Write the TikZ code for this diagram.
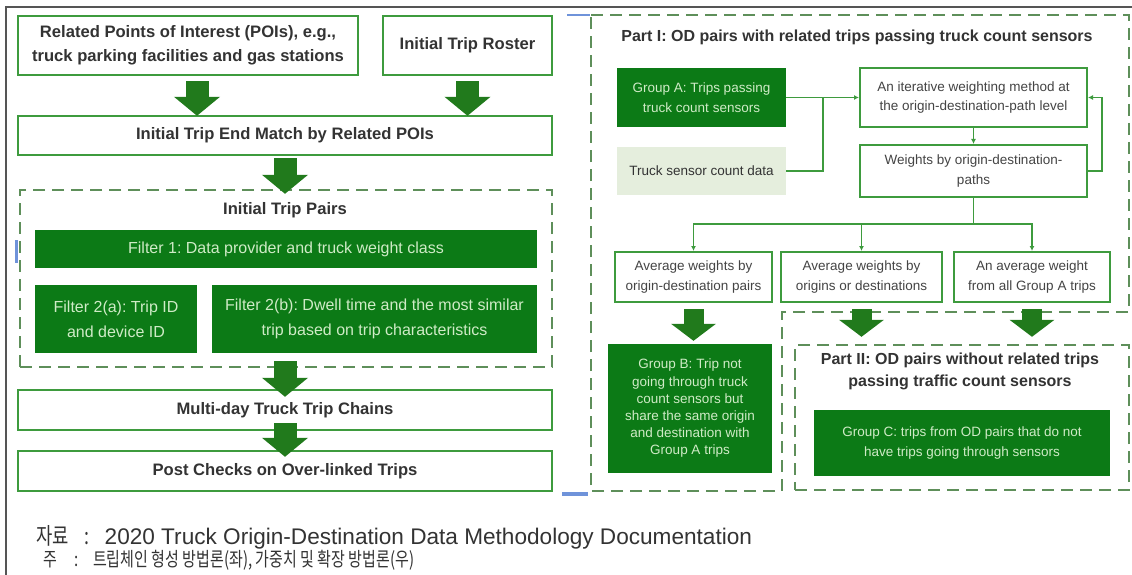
\documentclass[tikz,border=0pt]{standalone}
\usepackage{fontspec}
\setmainfont{Liberation Sans}
\newfontfamily\capfont[FakeStretch=0.77]{Noto Sans CJK KR}
\usetikzlibrary{arrows.meta,calc}
\definecolor{boxgreen}{HTML}{3E9B3E}
\definecolor{fillgreen}{HTML}{0C7A16}
\definecolor{arrowgreen}{HTML}{217A1C}
\definecolor{dashgreen}{HTML}{5E8F5A}
\definecolor{paletext}{HTML}{CFEBC6}
\definecolor{sensorfill}{HTML}{E5EEDD}
\definecolor{darktext}{HTML}{333333}
\definecolor{softtext}{HTML}{444444}
\definecolor{framegray}{HTML}{555555}
\definecolor{markblue}{HTML}{6F93DA}
\frenchspacing
\begin{document}
\begin{tikzpicture}[x=1pt,y=-1pt,
  lbold/.style={font=\fontsize{16.6}{24}\selectfont\bfseries},
  lreg/.style={font=\fontsize{16}{25}\selectfont},
  rreg/.style={font=\fontsize{13.5}{19.5}\selectfont},
  wbox/.style={draw=boxgreen, line width=2.4pt, fill=white, align=center,
               inner sep=0pt, text=darktext, lbold},
  rbox/.style={draw=boxgreen, line width=2pt, fill=white, align=center,
               inner sep=0pt, text=softtext, rreg},
  gbox/.style={fill=fillgreen, text=paletext, align=center, inner sep=0pt},
  dbox/.style={draw=dashgreen, line width=2.4pt, dash pattern=on 12pt off 7pt},
  fatL/.style={arrowgreen, line width=23pt, -{Triangle[width=45pt,length=19pt]}},
  fatR/.style={arrowgreen, line width=20pt, -{Triangle[width=44pt,length=17pt]}},
  thinline/.style={boxgreen, line width=1.8pt},
  thinarrow/.style={thinline, -{Latex[length=5pt,width=5pt]}},
  title/.style={text=darktext, align=center, inner sep=0pt,
                font=\fontsize{16}{22}\selectfont\bfseries},
  caption/.style={anchor=west, inner sep=0pt, text=darktext,
                  font=\fontsize{22.6}{23}\selectfont}
]
\useasboundingbox (0,0) rectangle (1132,575);
\fill[white] (0,0) rectangle (1132,575);

% outer frame
\draw[framegray, line width=1.3pt] (6,575) -- (6,7) -- (1132,7);

% ---------------- trip chain construction ----------------
\node[wbox, minimum width=340pt, minimum height=59pt] (poi) at (188,45.5)
  {Related Points of Interest (POIs), e.g.,\\truck parking facilities and gas stations};
\node[wbox, minimum width=169pt, minimum height=59pt] (roster) at (467.5,45.5)
  {Initial Trip Roster};
\node[wbox, minimum width=534pt, minimum height=39pt] (match) at (285,135.5)
  {Initial Trip End Match by Related POIs};

\node[dbox, minimum width=532pt, minimum height=177pt, inner sep=0pt] (pairs) at (286,278.5) {};
\node[title, font=\fontsize{16.6}{20}\selectfont\bfseries] (pairslbl) at (285,210) {Initial Trip Pairs};
\node[gbox, lreg, minimum width=502pt, minimum height=38pt] (f1) at (286,249)
  {Filter 1: Data provider and truck weight class};
\node[gbox, lreg, minimum width=162pt, minimum height=68pt] (f2a) at (116,319)
  {Filter 2(a): Trip ID\\and device ID};
\node[gbox, lreg, minimum width=325pt, minimum height=68pt] (f2b) at (374.5,319)
  {Filter 2(b): Dwell time and the most similar\\trip based on trip characteristics};

\node[wbox, minimum width=534pt, minimum height=40pt] (multi) at (285,410)
  {Multi-day Truck Trip Chains};
\node[wbox, minimum width=534pt, minimum height=40pt] (post) at (285,471)
  {Post Checks on Over-linked Trips};

\draw[fatL, shorten <=5pt, shorten >=-1pt] ([xshift=9pt]poi.south) -- ([xshift=9pt]poi.south |- match.north);
\draw[fatL, shorten <=5pt, shorten >=-1pt] (roster.south) -- (roster.south |- match.north);
\draw[fatL, shorten <=2pt, shorten >=-5pt] (match.south) -- (match.south |- pairs.north);
\draw[fatL, shorten <=-7pt, shorten >=-8pt] (pairs.south -| match.south) -- (multi.north);
\draw[fatL, shorten <=-8pt, shorten >=-7pt] (multi.south) -- (post.north);

% ---------------- weighting and expansion ----------------
\draw[dbox] (591,15) -- (1129,15) -- (1129,312) -- (782,312) -- (782,491) -- (591,491) -- cycle;
\node[title] (p1title) at (857,37)
  {Part I: OD pairs with related trips passing truck count sensors};

\node[gbox, rreg, minimum width=169pt, minimum height=59pt] (groupA) at (701.5,97.5)
  {Group A: Trips passing\\truck count sensors};
\node[fill=sensorfill, text=darktext, rreg, inner sep=0pt,
      minimum width=169pt, minimum height=48pt] (sensor) at (701.5,171)
  {Truck sensor count data};
\node[rbox, minimum width=227pt, minimum height=59pt] (iter) at (973.5,97.5)
  {An iterative weighting method at\\the origin-destination-path level};
\node[rbox, minimum width=227pt, minimum height=52pt] (weights) at (973.5,171)
  {Weights by origin-destination-\\paths};

\node[rbox, minimum width=157pt, minimum height=50pt] (avg1) at (693.5,277)
  {Average weights by\\origin-destination pairs};
\node[rbox, minimum width=161pt, minimum height=50pt] (avg2) at (861.5,277)
  {Average weights by\\origins or destinations};
\node[rbox, minimum width=156pt, minimum height=50pt] (avg3) at (1032,277)
  {An average weight\\from all Group A trips};

\node[gbox, font=\fontsize{13.5}{17.2}\selectfont, minimum width=164pt, minimum height=129pt] (groupB) at (690,408.5)
  {Group B: Trip not\\going through truck\\count sensors but\\share the same origin\\and destination with\\Group A trips};

\node[dbox, minimum width=334pt, minimum height=145pt, inner sep=0pt] (part2) at (962,417.5) {};
\node[title] (p2title) at (960,371)
  {Part II: OD pairs without related trips\\passing traffic count sensors};
\node[gbox, rreg, minimum width=296pt, minimum height=66pt] (groupC) at (962,443)
  {Group C: trips from OD pairs that do not\\have trips going through sensors};

% thin connectors
\coordinate (jA) at ($(groupA.east)!0.5!(iter.west)$);
\draw[thinarrow] (groupA.east) -- (iter.west);
\draw[thinline] (sensor.east) -| (jA);
\draw[thinarrow] (iter.south) -- (weights.north);
\draw[thinarrow] (weights.east) -- ++(14,0) |- (iter.east);
\coordinate (split) at ($(weights.south)+(0,26)$);
\draw[thinline] (weights.south) -- (split);
\draw[thinarrow] (split) -| (avg1.north);
\draw[thinarrow] (split) -| (avg2.north);
\draw[thinarrow] (split) -| (avg3.north);

% block arrows
\draw[fatR, shorten <=6pt, shorten >=3pt] (avg1.south) -- (avg1.south |- groupB.north);
\draw[fatR, shorten <=6pt, shorten >=7pt] (avg2.south) -- (avg2.south |- part2.north);
\draw[fatR, shorten <=6pt, shorten >=7pt] (avg3.south) -- (avg3.south |- part2.north);

% small selection marks
\fill[markblue] (567,13.8) rectangle (590,16.4);
\fill[markblue] (14.5,240) rectangle (18,263);
\fill[markblue] (562,492) rectangle (588,495.5);

% caption
\node[caption] (cap1) at (36,537)
  {{\capfont\fontsize{23}{23}\selectfont 자료\hspace{16pt}:\hspace{15pt}}2020 Truck Origin-Destination Data Methodology Documentation};
\node[caption, font=\capfont\fontsize{19.5}{23}\selectfont] (cap2) at (43,560)
  {주\hspace{17pt}:\hspace{15pt}트립체인 형성 방법론(좌), 가중치 및 확장 방법론(우)};
\end{tikzpicture}
\end{document}
